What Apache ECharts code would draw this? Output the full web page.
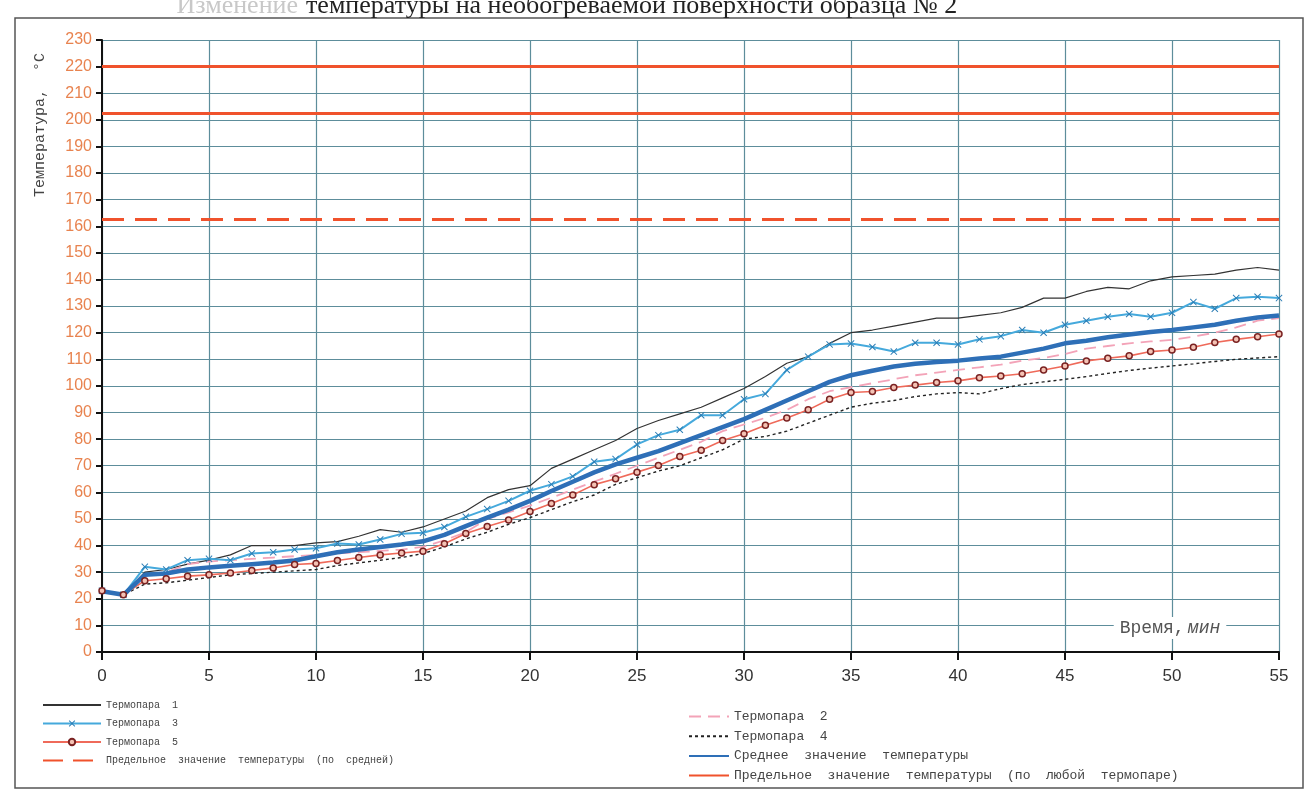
<!DOCTYPE html>
<html>
<head>
<meta charset="utf-8">
<title>Температура необогреваемой поверхности, образец № 2</title>
<script src="https://cdn.jsdelivr.net/npm/echarts@6/dist/echarts.min.js"></script>
<style>
    html, body { margin: 0; padding: 0; background: #fff; }
    #chart { width: 1308px; height: 796px; }
</style>
</head>
<body>
<div id="chart"></div>
<script>
// время, мин
var minutes = [0, 1, 2, 3, 4, 5, 6, 7, 8, 9, 10, 11, 12, 13, 14, 15, 16, 17, 18, 19,
    20, 21, 22, 23, 24, 25, 26, 27, 28, 29, 30, 31, 32, 33, 34, 35, 36, 37, 38, 39,
    40, 41, 42, 43, 44, 45, 46, 47, 48, 49, 50, 51, 52, 53, 54, 55];

// термопары, °С
var tp1 = [23, 21.5, 30, 31, 33, 34.5, 36.5, 40, 40, 40, 41, 41.5, 43.5, 46, 45, 47, 50, 53, 58, 61,
    62.5, 69, 72.5, 76, 79.5, 84, 87, 89.5, 92, 95.5, 99, 103.5, 108.5, 111, 116, 120, 121, 122.5, 124, 125.5,
    125.5, 126.5, 127.5, 129.5, 133, 133, 135.5, 137, 136.5, 139.5, 141, 141.5, 142, 143.5, 144.5, 143.5];
var tp2 = [23, 21.5, 29, 30, 33, 34, 34.5, 35, 35.5, 36, 36.5, 37, 37.5, 38, 38.5, 39.5, 42, 45, 50, 52.5,
    55, 58, 61, 64, 67, 70, 73, 76, 79, 83, 85.5, 88, 91, 95, 98, 99.5, 101, 102.5, 104, 105,
    106, 107, 108, 109.5, 110.5, 112, 114, 115, 116, 116.7, 117.3, 118.5, 120, 122, 124.5, 125.5];
var tp3 = [23, 21.5, 32, 31, 34.5, 35, 34.5, 37, 37.5, 38.5, 39, 40.8, 40.4, 42.3, 44.4, 44.8, 47, 50.8, 53.7, 56.8,
    60.6, 63, 66, 71.5, 72.5, 78, 81.5, 83.5, 89, 89, 95, 97, 106, 111, 115.6, 115.9, 114.6, 112.9, 116.2, 116.2,
    115.6, 117.5, 118.7, 121, 120, 123, 124.5, 126, 127, 126, 127.5, 131.5, 129, 133, 133.5, 133];
var tp4 = [22.5, 21.5, 25.5, 26, 27, 28, 29, 29.5, 30, 30.5, 31, 32.5, 33.5, 34.5, 35.5, 37, 39.5, 42.5, 45, 48,
    50.5, 53.5, 56.5, 59, 63, 65.5, 68, 70, 73, 76, 80, 81, 83, 86, 89, 92, 93.5, 94.5, 96, 97,
    97.5, 97, 99, 100.5, 101.5, 102.5, 103.5, 104.7, 105.8, 106.7, 107.5, 108.3, 109.2, 110, 110.5, 111];
var tp5 = [23, 21.5, 26.8, 27.5, 28.5, 29, 29.7, 30.6, 31.6, 32.9, 33.3, 34.4, 35.5, 36.5, 37.2, 37.9, 40.7, 44.5, 47.2, 49.6,
    52.8, 55.8, 59, 62.9, 65.1, 67.6, 70.1, 73.5, 75.8, 79.5, 82, 85.2, 87.9, 91, 95, 97.5, 97.9, 99.4, 100.3, 101.3,
    101.9, 103.1, 103.7, 104.6, 106, 107.5, 109.4, 110.4, 111.3, 112.9, 113.5, 114.5, 116.3, 117.5, 118.5, 119.5];
var avgT = [22.8, 21.5, 29, 29.5, 31, 31.8, 32.4, 33, 33.6, 34.4, 36, 37.5, 38.5, 39.5, 40.4, 41.6, 44, 47.3, 50.5, 53.5,
    56.8, 60.5, 64, 67.5, 70.5, 73, 75.5, 78.5, 81.5, 84.5, 87.5, 91, 94.5, 98, 101.5, 104, 105.7, 107.3, 108.3, 109,
    109.5, 110.3, 111, 112.5, 114, 116, 117, 118.3, 119.3, 120.3, 121, 122, 123, 124.5, 125.7, 126.5];

// предельные значения
var limitAvg = [162.5];
var limitAny = [202.5, 220];

var nm = {
    t1: 'Термопара  1', t2: 'Термопара  2', t3: 'Термопара  3',
    t4: 'Термопара  4', t5: 'Термопара  5',
    avg: 'Среднее  значение  температуры',
    lAvg: 'Предельное  значение  температуры  (по  средней)',
    lAny: 'Предельное  значение  температуры  (по  любой  термопаре)'
};

var red = '#f0522c';
var grid = '#5d8d9b';
var crossIcon = 'path://M0,1L1,0L5,4L9,0L10,1L6,5L10,9L9,10L5,6L1,10L0,9L4,5Z';

// в легенде у линий без маркеров кружок не нужен
function lineOnly(name) {
    return { name: name, itemStyle: { opacity: 0 } };
}

var chart = echarts.init(document.getElementById('chart'));
var option = {
    animation: false,
    backgroundColor: '#fff',
    grid: { left: 102, right: 29, top: 40, bottom: 144 },
    legend: [{
        data: [lineOnly(nm.t1), nm.t3, nm.t5, lineOnly(nm.lAvg)],
        orient: 'vertical',
        left: 42,
        top: 700,
        padding: 0,
        itemWidth: 58,
        itemHeight: 8,
        itemGap: 8.5,
        textStyle: { color: '#444', fontFamily: 'Liberation Mono', fontSize: 10 }
    }, {
        data: [lineOnly(nm.t2), lineOnly(nm.t4), lineOnly(nm.avg), lineOnly(nm.lAny)],
        orient: 'vertical',
        left: 688,
        top: 710,
        padding: 0,
        itemWidth: 40,
        itemHeight: 14,
        itemGap: 6.7,
        textStyle: { color: '#444', fontFamily: 'Liberation Mono', fontSize: 13 }
    }],
    xAxis: {
        type: 'category',
        data: minutes,
        boundaryGap: false,
        axisLine: { lineStyle: { color: '#111', width: 2 } },
        axisTick: { interval: 4, length: 8, lineStyle: { color: '#111', width: 2 } },
        axisLabel: { interval: 4, margin: 16, fontSize: 17, color: '#333', fontFamily: 'Liberation Sans' },
        splitLine: { show: true, interval: 4, lineStyle: { color: grid, width: 1.2 } }
    },
    yAxis: {
        type: 'value',
        min: 0,
        max: 230,
        interval: 10,
        axisLine: { show: true, lineStyle: { color: '#111', width: 2 } },
        axisTick: { show: true, length: 6, lineStyle: { color: '#111', width: 2 } },
        axisLabel: { fontSize: 16, color: '#e8834f', margin: 10, fontFamily: 'Liberation Sans' },
        splitLine: { lineStyle: { color: grid, width: 1.2 } }
    },
    series: [{
        name: nm.t1, type: 'line', data: tp1, symbol: 'none',
        lineStyle: { color: '#333', width: 1.2 }, itemStyle: { color: '#333' }
    }, {
        name: nm.t2, type: 'line', data: tp2, symbol: 'none',
        lineStyle: { color: '#f3a3b8', width: 1.8, type: [12, 7] }, itemStyle: { color: '#f3a3b8' }
    }, {
        name: nm.t3, type: 'line', data: tp3, symbol: crossIcon, symbolSize: 7, showAllSymbol: true,
        lineStyle: { color: '#45a9dc', width: 2 }, itemStyle: { color: '#2b7db5' }
    }, {
        name: nm.t4, type: 'line', data: tp4, symbol: 'none',
        lineStyle: { color: '#222', width: 1.4, type: [3, 3] }, itemStyle: { color: '#222' }
    }, {
        name: nm.t5, type: 'line', data: tp5, symbol: 'circle', symbolSize: 6, showAllSymbol: true,
        lineStyle: { color: '#ef6a5a', width: 1.6 },
        itemStyle: { color: '#f4c2b4', borderColor: '#7a2222', borderWidth: 1.5 }
    }, {
        name: nm.avg, type: 'line', data: avgT, symbol: 'none',
        lineStyle: { color: '#2e6fb7', width: 4.5 }, itemStyle: { color: '#2e6fb7' }
    }, {
        name: nm.lAvg, type: 'line', data: [], symbol: 'none',
        lineStyle: { color: red, width: 3, type: [20, 10] }, itemStyle: { color: red },
        markLine: {
            silent: true, symbol: 'none', label: { show: false },
            lineStyle: { color: red, width: 3, type: [22, 11] },
            data: limitAvg.map(function (v) { return { yAxis: v }; })
        }
    }, {
        name: nm.lAny, type: 'line', data: [], symbol: 'none',
        lineStyle: { color: red, width: 3 }, itemStyle: { color: red },
        markLine: {
            silent: true, symbol: 'none', label: { show: false },
            lineStyle: { color: red, width: 3, type: 'solid' },
            data: limitAny.map(function (v) { return { yAxis: v }; })
        }
    }],
    graphic: [{
        type: 'rect', z: -1,
        shape: { x: 15, y: 18, width: 1288, height: 770 },
        style: { fill: 'none', stroke: '#555', lineWidth: 1.5 }
    }, {
        type: 'text', x: 298, y: 6,
        style: { text: 'Изменение', fill: '#c8c8c8', fontSize: 26, fontFamily: 'Liberation Serif', align: 'right', verticalAlign: 'middle' }
    }, {
        type: 'text', x: 306, y: 6,
        style: { text: 'температуры на необогреваемой поверхности образца № 2', fill: '#222', fontSize: 26, fontFamily: 'Liberation Serif', align: 'left', verticalAlign: 'middle' }
    }, {
        type: 'text', x: 40, y: 125, rotation: Math.PI / 2,
        style: { text: 'Температура,  °С', fill: '#444', fontSize: 15, fontFamily: 'Liberation Mono', align: 'center', verticalAlign: 'middle' }
    }, {
        type: 'text', x: 1170, y: 628, z: 10,
        style: {
            text: '{a|Время,} {b|мин}', align: 'center', verticalAlign: 'middle',
            backgroundColor: '#fff', padding: [2, 6],
            rich: {
                a: { fill: '#555', fontSize: 18, fontFamily: 'Liberation Mono' },
                b: { fill: '#555', fontSize: 18, fontFamily: 'Liberation Mono', fontStyle: 'italic' }
            }
        }
    }]
};
chart.setOption(option);
</script>
</body>
</html>
